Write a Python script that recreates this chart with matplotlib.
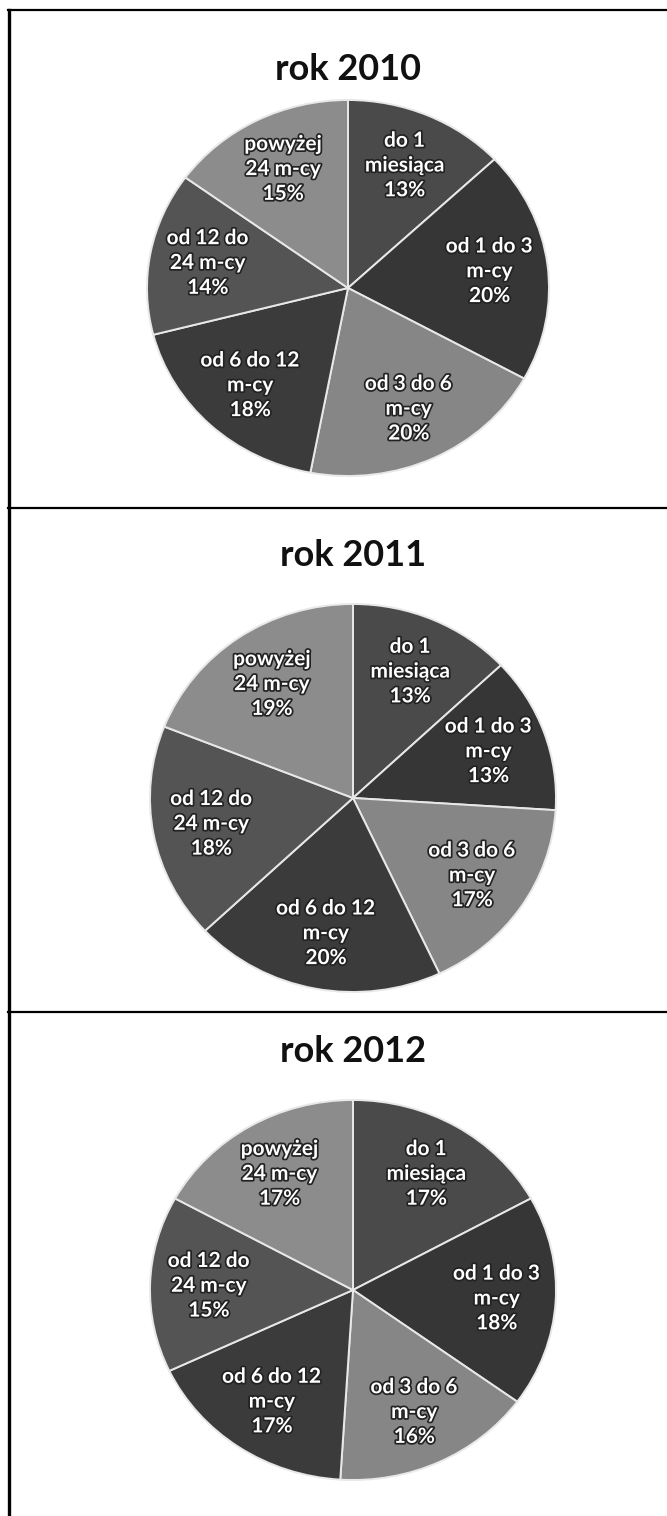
# -*- coding: utf-8 -*-
"""
Struktura bezrobotnych wg czasu pozostawania bez pracy - 3 wykresy kołowe
"""
import matplotlib
matplotlib.use('Agg')
import matplotlib.pyplot as plt
import matplotlib.patheffects as pe
from matplotlib.lines import Line2D
import numpy as np

plt.rcParams['font.family'] = ['Lato', 'DejaVu Sans']

W, H = 667, 1516

years = ['rok 2010', 'rok 2011', 'rok 2012']
categories = ['do 1\nmiesiąca', 'od 1 do 3\nm-cy', 'od 3 do 6\nm-cy',
              'od 6 do 12\nm-cy', 'od 12 do\n24 m-cy', 'powyżej\n24 m-cy']
share_2010 = [13, 20, 20, 18, 14, 15]
share_2011 = [13, 13, 17, 20, 18, 19]
share_2012 = [17, 18, 16, 17, 15, 17]
shares = [share_2010, share_2011, share_2012]

colors = ['#4a4a4a', '#363636', '#868686', '#3b3b3b', '#545454', '#8c8c8c']

# układ w pikselach: (środek x, środek y, promień poziomy, promień pionowy, y tytułu)
panels = [(348, 288, 201, 188, 70),
          (353, 798, 203, 194, 555),
          (353, 1290, 203, 190, 1052)]
border_y = [10, 508, 1012]

fig = plt.figure(figsize=(W / 100, H / 100), dpi=100)
fig.patch.set_facecolor('white')


def to_fig(x, y):
    return x / W, 1 - y / H


for year, vals, (cx, cy, rx, ry, ty) in zip(years, shares, panels):
    x0, y0 = to_fig(cx - rx, cy + ry)
    ax = fig.add_axes([x0, y0, 2 * rx / W, 2 * ry / H])
    wedges, _ = ax.pie(vals, colors=colors, startangle=90, counterclock=False,
                       radius=1, wedgeprops=dict(edgecolor='#e8e8e8', linewidth=1.4))
    ax.set_aspect('auto')
    ax.set_xlim(-1, 1)
    ax.set_ylim(-1, 1)
    ax.axis('off')

    for w, cat, v in zip(wedges, categories, vals):
        mid = np.deg2rad((w.theta1 + w.theta2) / 2)
        ax.text(0.71 * np.cos(mid), 0.71 * np.sin(mid), f'{cat}\n{v}%',
                ha='center', va='center', fontsize=15, fontweight='bold',
                color='white', linespacing=1.3,
                path_effects=[pe.withStroke(linewidth=2.5, foreground='#222222')])

    tx, tyf = to_fig(cx, ty)
    fig.text(tx, tyf, year, ha='center', va='center', fontsize=26,
             fontweight='bold', color='#111111')

# ramki paneli
for by in border_y:
    fy = 1 - by / H
    fig.add_artist(Line2D([8 / W, 1.0], [fy, fy], color='black', linewidth=1.6))
fig.add_artist(Line2D([9 / W, 9 / W], [1 - 10 / H, 0], color='black', linewidth=2.4))

fig.savefig('out.png', dpi=100)
